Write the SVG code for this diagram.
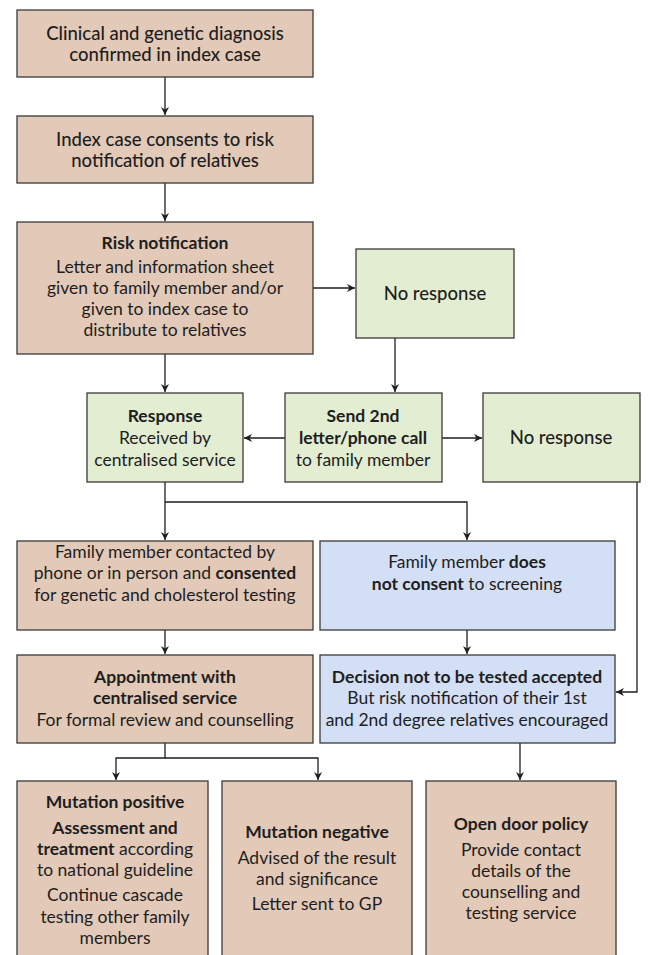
<svg xmlns="http://www.w3.org/2000/svg" width="649" height="955" viewBox="0 0 649 955">
<defs>
<style>
.tan{fill:#e2c9b8;stroke:#3a3a3a;stroke-width:1.3}
.grn{fill:#e2edd2;stroke:#3a3a3a;stroke-width:1.3}
.blu{fill:#d3dff4;stroke:#3a3a3a;stroke-width:1.3}
text{font-family:Lato,"Open Sans","Liberation Sans",sans-serif;font-size:17.5px;fill:#1e1e1e;text-anchor:middle}
.b{font-weight:bold}
.m{font-size:18.5px;font-weight:500}
.c{fill:none;stroke:#1e1e1e;stroke-width:1.3}
</style>
<marker id="ah" viewBox="0 0 10 10" refX="10" refY="5" markerWidth="8" markerHeight="8" markerUnits="userSpaceOnUse" orient="auto">
<path d="M0,0 L10,5 L0,10 L3,5 z" fill="#1e1e1e"/>
</marker>
</defs>
<rect width="649" height="955" fill="#ffffff"/>
<g id="connectors">
<path class="c" d="M165,77 V115" marker-end="url(#ah)"/>
<path class="c" d="M165,183 V221" marker-end="url(#ah)"/>
<path class="c" d="M313,288 H355" marker-end="url(#ah)"/>
<path class="c" d="M165,354 V392" marker-end="url(#ah)"/>
<path class="c" d="M395,338 V392" marker-end="url(#ah)"/>
<path class="c" d="M285,438 H244" marker-end="url(#ah)"/>
<path class="c" d="M442,438 H482" marker-end="url(#ah)"/>
<path class="c" d="M165,482 V540" marker-end="url(#ah)"/>
<path class="c" d="M165,502 H467 V540" marker-end="url(#ah)"/>
<path class="c" d="M637,482 V692 H616" marker-end="url(#ah)"/>
<path class="c" d="M165,630 V654" marker-end="url(#ah)"/>
<path class="c" d="M467,630 V654" marker-end="url(#ah)"/>
<path class="c" d="M165,743 V758 H116 V780" marker-end="url(#ah)"/>
<path class="c" d="M165,758 H318 V780" marker-end="url(#ah)"/>
<path class="c" d="M520,743 V780" marker-end="url(#ah)"/>
</g>
<g id="n1"><rect class="tan" x="17" y="10" width="296" height="67"/>
<text class="m" x="165" y="40">Clinical and genetic diagnosis</text>
<text class="m" x="165" y="61">confirmed in index case</text></g>
<g id="n2"><rect class="tan" x="17" y="116" width="296" height="67"/>
<text class="m" x="165" y="146">Index case consents to risk</text>
<text class="m" x="165" y="167">notification of relatives</text></g>
<g id="n3"><rect class="tan" x="17" y="222" width="296" height="132"/>
<text class="b" x="165" y="249">Risk notification</text>
<text x="165" y="273">Letter and information sheet</text>
<text x="165" y="294">given to family member and/or</text>
<text x="165" y="315">given to index case to</text>
<text x="165" y="336">distribute to relatives</text></g>
<g id="n4"><rect class="grn" x="356" y="249" width="158" height="89"/>
<text class="m" x="435" y="300">No response</text></g>
<g id="n5"><rect class="grn" x="87" y="393" width="156" height="89"/>
<text class="b" x="165" y="422">Response</text>
<text x="165" y="444">Received by</text>
<text x="165" y="466">centralised service</text></g>
<g id="n6"><rect class="grn" x="285" y="393" width="157" height="89"/>
<text class="b" x="363" y="422">Send 2nd</text>
<text class="b" x="363" y="444">letter/phone call</text>
<text x="363" y="466">to family member</text></g>
<g id="n7"><rect class="grn" x="483" y="393" width="157" height="89"/>
<text class="m" x="561" y="444">No response</text></g>
<g id="n8"><rect class="tan" x="17" y="541" width="296" height="89"/>
<text x="165" y="558">Family member contacted by</text>
<text x="165" y="579">phone or in person and <tspan class="b">consented</tspan></text>
<text x="165" y="601">for genetic and cholesterol testing</text></g>
<g id="n9"><rect class="blu" x="320" y="541" width="295" height="89"/>
<text x="467" y="568">Family member <tspan class="b">does</tspan></text>
<text x="467" y="590"><tspan class="b">not consent</tspan> to screening</text></g>
<g id="n10"><rect class="tan" x="17" y="655" width="296" height="88"/>
<text class="b" x="165" y="683">Appointment with</text>
<text class="b" x="165" y="704">centralised service</text>
<text x="165" y="726">For formal review and counselling</text></g>
<g id="n11"><rect class="blu" x="320" y="655" width="295" height="88"/>
<text class="b" x="467" y="683">Decision not to be tested accepted</text>
<text x="467" y="704">But risk notification of their 1st</text>
<text x="467" y="726">and 2nd degree relatives encouraged</text></g>
<g id="n12"><rect class="tan" x="17" y="781" width="191" height="190"/>
<text class="b" x="115" y="808">Mutation positive</text>
<text class="b" x="115" y="834">Assessment and</text>
<text x="115" y="855"><tspan class="b">treatment</tspan> according</text>
<text x="115" y="876">to national guideline</text>
<text x="115" y="901">Continue cascade</text>
<text x="115" y="923">testing other family</text>
<text x="115" y="944">members</text></g>
<g id="n13"><rect class="tan" x="222" y="781" width="190" height="190"/>
<text class="b" x="317" y="838">Mutation negative</text>
<text x="317" y="864">Advised of the result</text>
<text x="317" y="885">and significance</text>
<text x="317" y="910">Letter sent to GP</text></g>
<g id="n14"><rect class="tan" x="426" y="781" width="190" height="190"/>
<text class="b" x="521" y="830">Open door policy</text>
<text x="521" y="856">Provide contact</text>
<text x="521" y="877">details of the</text>
<text x="521" y="898">counselling and</text>
<text x="521" y="919">testing service</text></g>
</svg>
